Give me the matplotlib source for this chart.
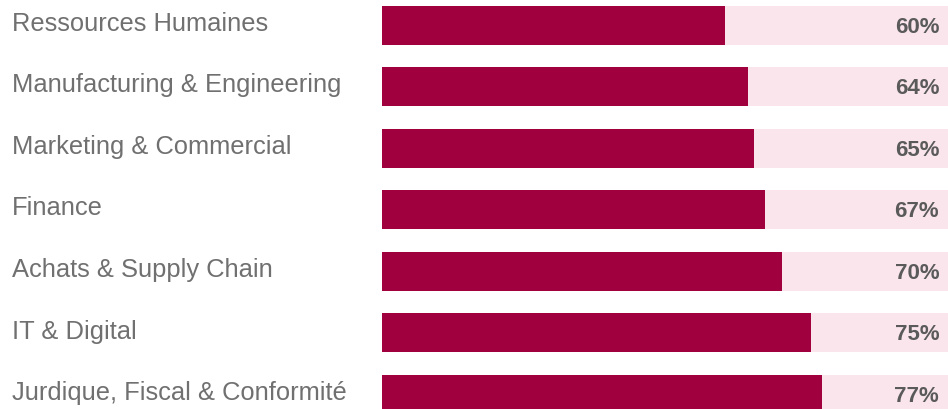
import matplotlib.pyplot as plt

# data
categories = ['Ressources Humaines', 'Manufacturing & Engineering',
              'Marketing & Commercial', 'Finance', 'Achats & Supply Chain',
              'IT & Digital', 'Jurdique, Fiscal & Conformité']
values = [60, 64, 65, 67, 70, 75, 77]
labels = ['60%', '64%', '65%', '67%', '70%', '75%', '77%']

dark = '#A1003F'
light = '#FAE5ED'

W, H = 948, 409
fig = plt.figure(figsize=(W / 100, H / 100), dpi=100)

# axes runs past the right edge, so the 100% track gets cut like in the source
ax = fig.add_axes([382 / W, 0, 572 / W, 1])
pos = list(range(len(categories)))
ax.barh(pos, [100] * len(pos), height=0.63, color=light)
ax.barh(pos, values, height=0.63, color=dark)
ax.set_xlim(0, 100)
ax.set_ylim(6.24, -0.41)
ax.axis('off')

for i, (cat, lab) in enumerate(zip(categories, labels)):
    ax.text(97.4, i + 0.03, lab, ha='right', va='center', fontsize=16,
            fontweight='bold', color='#5a5a5a', family='Liberation Sans')
    ax.annotate(cat, xy=(0, i - 0.02), xycoords=('figure fraction', 'data'),
                xytext=(12, 0), textcoords='offset pixels',
                ha='left', va='center', fontsize=18.4, color='#707070',
                family='Liberation Sans')

fig.savefig('out.png', dpi=100)
